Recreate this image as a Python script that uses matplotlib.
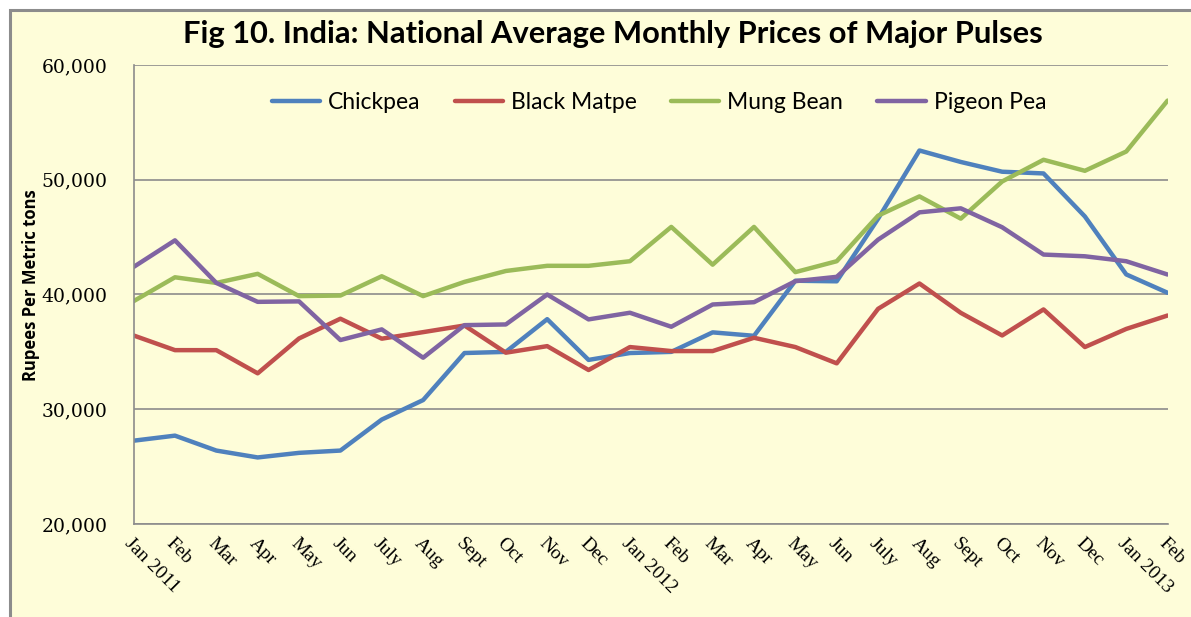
import matplotlib
matplotlib.use("Agg")
import matplotlib.pyplot as plt
from matplotlib.patches import Rectangle

months = ["Jan 2011", "Feb", "Mar", "Apr", "May", "Jun", "July", "Aug", "Sept", "Oct", "Nov", "Dec",
          "Jan 2012", "Feb", "Mar", "Apr", "May", "Jun", "July", "Aug", "Sept", "Oct", "Nov", "Dec",
          "Jan 2013", "Feb"]

chickpea = [27260, 27700, 26400, 25800, 26200, 26400, 29100, 30800, 34900, 35000, 37850, 34300,
            34900, 35000, 36700, 36400, 41200, 41150, 46600, 52550, 51550, 50700, 50550, 46800,
            41750, 40150]
black_matpe = [36430, 35150, 35150, 33130, 36170, 37890, 36150, 36720, 37300, 34930, 35500, 33420,
               35420, 35070, 35070, 36230, 35420, 34000, 38750, 40960, 38400, 36430, 38700, 35420,
               37000, 38170]
mung_bean = [39420, 41500, 41010, 41800, 39860, 39910, 41590, 39860, 41100, 42050, 42500, 42500,
             42900, 45890, 42600, 45890, 41950, 42900, 46870, 48550, 46610, 49850, 51740, 50780,
             52460, 56900]
pigeon_pea = [42400, 44720, 41010, 39360, 39400, 36030, 36960, 34490, 37330, 37390, 40000, 37830,
              38410, 37190, 39130, 39330, 41160, 41540, 44780, 47160, 47510, 45860, 43480, 43330,
              42900, 41740]

series = [("Chickpea", chickpea, "#4F81BD"),
          ("Black Matpe", black_matpe, "#C0504D"),
          ("Mung Bean", mung_bean, "#9BBB59"),
          ("Pigeon Pea", pigeon_pea, "#8064A2")]

yticks = [20000, 30000, 40000, 50000, 60000]

bg = "#FEFDD9"
W, H = 1191, 617
fig = plt.figure(figsize=(W / 100, H / 100), dpi=100)
fig.patch.set_facecolor("white")

# outer chart frame
frame = Rectangle((10 / W, -0.1), 1.2, 1.1 - 10 / H, transform=fig.transFigure,
                  facecolor=bg, edgecolor="#8C8C8C", linewidth=2.2, zorder=-5)
fig.patches.append(frame)

ax = fig.add_axes([133.6 / W, 1 - 524 / H, (1167.6 - 133.6) / W, (524 - 65) / H])
ax.set_facecolor(bg)

x = list(range(len(months)))
for name, vals, col in series:
    ax.plot(x, vals, color=col, linewidth=3.2, label=name, solid_capstyle="round", solid_joinstyle="round")

ax.set_xlim(0, len(months) - 1)
ax.set_ylim(20000, 60000)
ax.set_yticks(yticks)
ax.set_yticklabels([f"{v:,}" for v in yticks], fontfamily="DejaVu Serif", fontsize=13.5)
ax.set_xticks(x)
ax.set_xticklabels(months, rotation=-45, ha="left", va="top", rotation_mode="anchor",
                   fontfamily="Liberation Serif", fontsize=14)
ax.tick_params(axis="y", length=0, pad=19)
ax.tick_params(axis="x", length=0, pad=8)
ax.grid(axis="y", color="#8C8C8C", linewidth=1.2)
ax.set_axisbelow(True)
for s in ["top", "right"]:
    ax.spines[s].set_visible(False)
ax.spines["left"].set_color("#8C8C8C")
ax.spines["bottom"].set_color("#8C8C8C")
ax.spines["left"].set_linewidth(1.2)
ax.spines["bottom"].set_linewidth(1.2)

fig.text(31 / W, 1 - 285 / H, "Rupees Per Metric tons", rotation=90, ha="center", va="center",
         fontfamily="Open Sans", fontweight="bold", fontsize=12)

leg = ax.legend(loc="center", bbox_to_anchor=(0.508, 0.919), ncol=4, frameon=False,
                prop={"family": "Lato", "size": 16.5}, handlelength=2.1, columnspacing=1.5,
                handletextpad=0.35)

fig.text(0.515, 1 - 34 / H, "Fig 10. India: National Average Monthly Prices of Major Pulses",
         ha="center", va="center", fontfamily="Lato", fontweight="bold", fontsize=22.2)

fig.savefig("out.png", dpi=100, facecolor="white")
